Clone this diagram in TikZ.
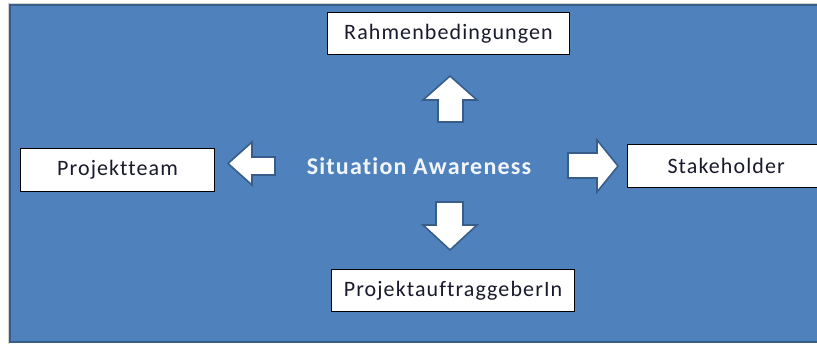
\documentclass[tikz,border=0pt]{standalone}
\usepackage{fontspec}
\setmainfont{Carlito}[LetterSpace=5, Ligatures={NoCommon, NoRare}]
\definecolor{bgblue}{HTML}{4F81BD}
\definecolor{edgeblue}{HTML}{385D8A}
\definecolor{boxtext}{HTML}{1A1A2E}
\definecolor{satext}{HTML}{F2F6FB}
\tikzset{
  labelbox/.style={draw=black, line width=1pt, fill=white, inner sep=0pt,
    text=boxtext, font=\fontsize{22}{26}\selectfont, anchor=north west},
  blockarrow/.style={fill=white, draw=edgeblue, line width=1.6pt, line join=miter},
}
\begin{document}
\begin{tikzpicture}[x=1pt,y=-1pt]
\useasboundingbox (0,0) rectangle (817,344);
\clip (0,0) rectangle (817,344);
\fill[white] (0,0) rectangle (817,344);
\draw[gray!35, line width=1pt] (8.5,3.5) -- (830,3.5);
\draw[gray!35, line width=1pt] (8.5,3.5) -- (8.5,344);
\draw[fill=bgblue, draw=edgeblue, line width=2pt] (10,5) rectangle (840,342);
% boxes
\node[labelbox, minimum width=242pt, minimum height=42pt] (rb) at (327,12) {Rahmenbedingungen};
\node[labelbox, minimum width=194pt, minimum height=43pt] (pt) at (20,148) {Projektteam};
\node[labelbox, minimum width=230pt, minimum height=43pt, text width=230pt, align=left] (sh) at (627,144) {\hspace*{40pt}Stakeholder};
\node[labelbox, minimum width=243pt, minimum height=42pt] (pa) at (331,269) {ProjektauftraggeberIn};
% centre text
\node[text=satext, font=\bfseries\fontsize{24}{28}\selectfont, inner sep=0pt] (sa) at (419,166) {Situation Awareness};
% block arrows
\draw[blockarrow] (450,76) -- (477,100) -- (463,100) -- (463,122) -- (438,122) -- (438,100) -- (423,100) -- cycle;
\draw[blockarrow] (450,250) -- (477,225) -- (463,225) -- (463,202) -- (436,202) -- (436,225) -- (423,225) -- cycle;
\draw[blockarrow] (228,163.5) -- (252,142) -- (252,157) -- (275,157) -- (275,175) -- (252,175) -- (252,185) -- cycle;
\draw[blockarrow] (618,166) -- (597,140) -- (597,153) -- (568,153) -- (568,178) -- (597,178) -- (597,192) -- cycle;
\end{tikzpicture}
\end{document}
